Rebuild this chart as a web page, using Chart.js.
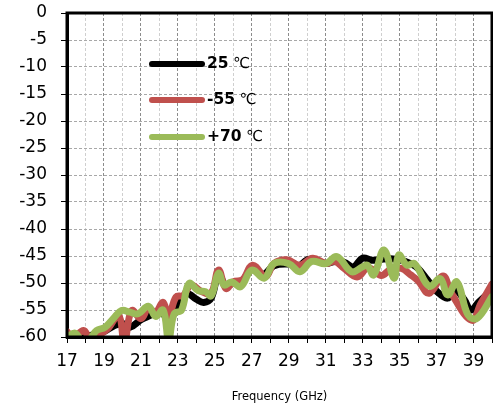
<!DOCTYPE html>
<html>
<head>
<meta charset="utf-8">
<script src="https://cdn.jsdelivr.net/npm/chart.js@4/dist/chart.umd.min.js"></script>
<style>
html,body{margin:0;padding:0;background:#fff;}
canvas{display:block;}
</style>
</head>
<body>
<canvas id="c" width="493" height="410"></canvas>
<script>
// ---- data ----
const seriesNames = ['25', '-55', '+70'];
const unitLabel = ' ℃';
const xTitle = 'Frequency (GHz)';

const freq25 = [17, 17.5, 18, 18.5, 19, 19.5, 20, 20.4, 21, 21.5, 22, 22.5, 23, 23.5, 24, 24.4, 24.8, 25.2, 25.6, 26, 26.5, 27, 27.6, 28.2, 29, 29.5, 30, 30.5, 31, 31.5, 32, 32.5, 33, 33.5, 34, 34.5, 35, 35.6, 36, 36.5, 37, 37.6, 38, 38.5, 38.85, 39.3, 40];
const val25  = [-60, -60.5, -60, -59.5, -59, -58, -57.5, -58.2, -56.8, -56, -55.2, -56.5, -54, -52, -53, -53.6, -52.8, -48.5, -50.5, -50, -49.5, -47.5, -48.5, -46.8, -46.5, -47, -45.7, -45.8, -46.4, -46, -46.2, -47, -45.4, -45.8, -45.6, -45.5, -45.7, -46.4, -47.3, -49.4, -51.5, -52.8, -51.3, -53.1, -55, -53.5, -51.3];

const freqM55 = [17, 17.3, 17.9, 18.25, 18.8, 19.2, 19.8, 20.1, 20.5, 21, 21.4, 21.8, 22.2, 22.5, 22.9, 23.3, 23.7, 24.3, 24.8, 25.2, 25.6, 26, 26.5, 27.04, 27.75, 28.2, 28.9, 29.6, 30.3, 31, 31.5, 32, 32.7, 33.3, 34, 34.5, 35.1, 35.6, 36, 36.6, 37.35, 37.8, 38.9, 39.4, 40];
const valM55  = [-59, -60.2, -58.8, -60.3, -59.5, -58.5, -56, -61, -55.1, -56.6, -54.7, -55.4, -53.6, -56.2, -52.6, -52.3, -50.4, -51.6, -51.9, -47.6, -51, -49.8, -49.4, -46.7, -48.8, -46.4, -45.7, -46.7, -45.4, -46.4, -46, -47.3, -48.9, -47.2, -48.6, -47.5, -47.3, -48.5, -49.6, -51.9, -48.7, -51.9, -56.9, -53.8, -50.2];

const freqP70 = [17, 17.45, 17.85, 18.25, 18.6, 19.05, 19.5, 19.95, 20.4, 20.85, 21.4, 21.8, 22.2, 22.5, 22.8, 23.2, 23.6, 24.1, 24.5, 24.8, 25.2, 25.5, 25.9, 26.4, 27, 27.67, 28.2, 29, 29.6, 30.25, 31, 31.6, 32.4, 33, 33.25, 33.6, 34.15, 34.7, 34.95, 35.4, 35.8, 36.6, 37.2, 37.6, 38.1, 38.7, 39.2, 40];
const valP70  = [-60, -59.3, -61, -60.3, -58.8, -58.2, -56.6, -55.1, -55.4, -55.7, -54.3, -56.2, -55, -60.5, -55.7, -55, -50.1, -51.4, -51.6, -52.4, -48.2, -50.4, -49.8, -50.7, -47.6, -49.1, -46.4, -46.4, -47.9, -46, -46.4, -45.1, -47.9, -47, -46.7, -48.5, -43.9, -49.1, -44.8, -46.7, -46.4, -50.6, -49.2, -52.2, -49.8, -55.9, -56.5, -52.5];

const xMin = 17, xMax = 40, yMin = -60, yMax = 0, yStep = 5;

const colors = ['#000000', '#C0504D', '#9BBB59'];

function pts(xs, ys){ return xs.map((x,i)=>({x:x, y:ys[i]})); }

const frame = {
  id: 'frame',
  afterDatasetsDraw(chart){
    const {ctx, chartArea:a} = chart;
    ctx.save();
    ctx.strokeStyle = '#000';
    ctx.lineWidth = 3;
    ctx.strokeRect(a.left, a.top, a.right - a.left, a.bottom - a.top);
    // legend
    const ly = [64, 100, 137];
    ctx.lineCap = 'round';
    seriesNames.forEach((n,i)=>{
      ctx.strokeStyle = colors[i];
      ctx.lineWidth = 6;
      ctx.beginPath();
      ctx.moveTo(152, ly[i]);
      ctx.lineTo(202, ly[i]);
      ctx.stroke();
      ctx.fillStyle = '#000';
      ctx.textBaseline = 'middle';
      ctx.textAlign = 'left';
      ctx.font = 'bold 15.5px "DejaVu Sans"';
      ctx.fillText(n, 207, ly[i]);
      const w = ctx.measureText(n).width;
      ctx.font = '15px "DejaVu Sans"';
      ctx.fillText(unitLabel, 207 + w, ly[i]);
    });
    ctx.restore();
  }
};

new Chart(document.getElementById('c'), {
  type: 'line',
  data: {
    datasets: [
      {label: seriesNames[0], data: pts(freq25, val25), borderColor: colors[0], order: 3},
      {label: seriesNames[1], data: pts(freqM55, valM55), borderColor: colors[1], order: 2},
      {label: seriesNames[2], data: pts(freqP70, valP70), borderColor: colors[2], order: 1}
    ]
  },
  options: {
    responsive: false,
    animation: false,
    elements: {
      point: {radius: 0},
      line: {borderWidth: 7, tension: 0.4, borderCapStyle: 'round', borderJoinStyle: 'round', fill: false}
    },
    layout: {padding: {top: 13, right: 1, left: 0, bottom: 0}},
    plugins: {legend: {display: false}, tooltip: {enabled: false}},
    scales: {
      x: {
        type: 'linear', min: xMin, max: xMax,
        afterFit: s => { s.height = 73; s.paddingLeft = 0; s.paddingRight = 0; },
        ticks: {
          stepSize: 1, autoSkip: false, maxRotation: 0, padding: 8,
          color: '#000', font: {family: '"DejaVu Sans"', size: 17},
          callback: v => (v % 2 === 1 && v < 40) ? String(v) : ''
        },
        grid: {
          color: c => (c.tick && c.tick.value % 2 === 1) ? '#8c8c8c' : '#cfcfcf',
          lineWidth: 1, tickLength: 6, tickColor: '#000', tickWidth: 1, tickBorderDash: [6, 0]
        },
        border: {display: true, color: '#000', width: 3, dash: [3, 2]},
        title: {display: true, text: xTitle, color: '#000', font: {family: '"DejaVu Sans"', size: 11.5}, padding: {top: 0, bottom: 6}}
      },
      y: {
        min: yMin, max: yMax,
        afterFit: s => { s.width = 67; s.paddingTop = 0; s.paddingBottom = 0; },
        ticks: {
          stepSize: yStep, padding: 14, color: '#000',
          font: {family: '"DejaVu Sans"', size: 17}
        },
        grid: {color: '#a8a8a8', lineWidth: 1, tickLength: 6, tickColor: '#000', tickBorderDash: [6, 0]},
        border: {display: true, color: '#000', width: 3, dash: [3, 2]}
      }
    }
  },
  plugins: [frame]
});
</script>
</body>
</html>
